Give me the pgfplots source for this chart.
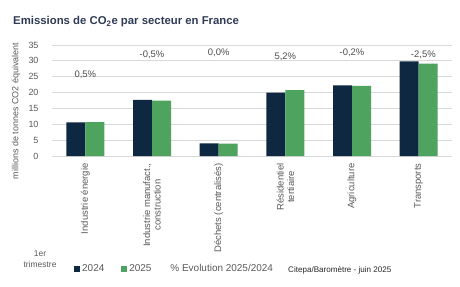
\documentclass[border=0pt]{standalone}
\usepackage{pgfplots}
\pgfplotsset{compat=1.18}
\usepackage{fontspec}
\setmainfont{Liberation Sans}
\definecolor{navy}{HTML}{0E2841}
\definecolor{grn}{HTML}{4EA35E}
\definecolor{ttl}{HTML}{2F3B55}
\definecolor{txt}{HTML}{595959}
\definecolor{grd}{HTML}{D9D9D9}
\begin{document}
\begin{tikzpicture}[x=1bp,y=1bp]
\path[use as bounding box] (0,0) rectangle (460,286);
\node[anchor=west, text=ttl, font=\fontsize{11.4}{13}\selectfont\bfseries, inner sep=0] at (13,264) {Emissions de CO\textsubscript{2}e par secteur en France};
\node[rotate=90, text=txt, font=\fontsize{9}{10}\selectfont, inner sep=0] at (16,175) {millions de tonnes CO2 équivalent};
\node[align=center, text=txt, font=\fontsize{8.5}{11}\selectfont, inner sep=0] at (40,27) {1er\\trimestre};
\node[anchor=west, text=black!85, font=\fontsize{8.1}{9}\selectfont, inner sep=0] at (288,16) {Citepa/Baromètre - juin 2025};
\begin{axis}[
  at={(52bp,130bp)}, anchor=south west,
  scale only axis, width=400bp, height=111bp,
  ybar=0pt, bar width=19bp,
  xmin=-0.5, xmax=5.5, ymin=0, ymax=35,
  ytick={0,5,...,35},
  xtick={0,1,2,3,4,5},
  xticklabels={Industrie énergie,{Industrie manufact.,\\construction},Déchets (centralisés),{Résidentiel\\tertiaire},Agriculture,Transports},
  xticklabel style={rotate=90, anchor=east, align=center, text=txt, font=\fontsize{9.5}{10.5}\selectfont},
  yticklabel style={text=txt, font=\fontsize{9}{10}\selectfont},
  /pgf/number format/assume math mode=true,
  major tick length=0pt,
  axis line style={draw=none},
  ymajorgrids, grid style={grd, line width=0.8pt},
  ytick pos=left, xtick pos=bottom,
  xticklabel shift=4bp, yticklabel shift=10bp,
  legend columns=3,
  legend style={at={(0.055,-1.018)}, anchor=west, draw=none, fill=none,
    font=\fontsize{10}{11}\selectfont, text=txt, inner sep=0pt,
    /tikz/every even column/.append style={column sep=15bp}},
  legend image code/.code={\fill[#1] (0bp,-3bp) rectangle (6bp,3bp);},
  clip=false,
]
\addplot[fill=navy, draw=none] coordinates {(0,10.6) (1,17.7) (2,4.0) (3,20.0) (4,22.3) (5,29.8)};
\addlegendentry{2024}
\addplot[fill=grn, draw=none] coordinates {(0,10.65) (1,17.5) (2,3.9) (3,20.8) (4,22.1) (5,29.1)};
\addlegendentry{2025}
\addlegendimage{empty legend}
\addlegendentry{\% Evolution 2025/2024}
\begin{scope}[font=\fontsize{9.5}{10.5}\selectfont, text=black!70]
\node at (axis cs:0,25.5) {0,5\%};
\node at (axis cs:1,31.9) {-0,5\%};
\node at (axis cs:2,32.6) {0,0\%};
\node at (axis cs:3,31.3) {5,2\%};
\node at (axis cs:4,32.6) {-0,2\%};
\node at (axis cs:5.07,31.9) {-2,5\%};
\end{scope}
\end{axis}
\end{tikzpicture}
\end{document}
